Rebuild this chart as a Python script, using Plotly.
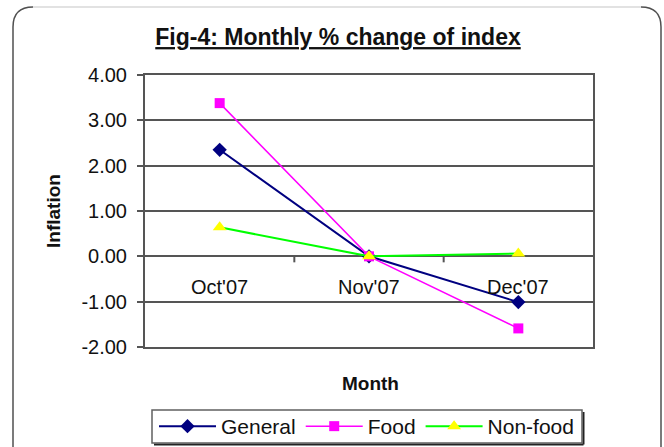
import plotly.graph_objects as go

# ---- data ----
categories = ["Oct'07", "Nov'07", "Dec'07"]
general = [2.35, 0.00, -1.01]
food = [3.38, 0.00, -1.59]
nonfood = [0.64, 0.00, 0.06]
y_ticks = [4, 3, 2, 1, 0, -1, -2]
y_tick_labels = ["4.00", "3.00", "2.00", "1.00", "0.00", "-1.00", "-2.00"]

W, H = 664, 447
L, R, T, B = 145, 593, 75, 347  # plot-area box in pixels
PW, PH = R - L, B - T

def px(x):
    return (x - L) / PW

def py(y):
    return (B - y) / PH

def cx(x):
    return x / W

def cy(y):
    return 1 - y / H

FONT = "Liberation Sans, Arial, sans-serif"
GRID = "#555555"

fig = go.Figure()
xs = list(range(len(categories)))
fig.add_trace(go.Scatter(x=xs, y=general, name="General", mode="lines+markers",
                         line=dict(color="#000080", width=2),
                         marker=dict(symbol="diamond", size=11, color="#000080")))
fig.add_trace(go.Scatter(x=xs, y=food, name="Food", mode="lines+markers",
                         line=dict(color="#FF00FF", width=1.5),
                         marker=dict(symbol="square", size=10, color="#FF00FF")))
fig.add_trace(go.Scatter(x=xs, y=nonfood, name="Non-food", mode="lines+markers",
                         line=dict(color="#00FF00", width=2),
                         marker=dict(symbol="triangle-up", size=12, color="#FFFF00")))

shapes = []
# category boundary ticks on the zero line
for i in range(len(categories) - 1):
    shapes.append(dict(type="line", xref="x", yref="y", ysizemode="pixel", yanchor=0,
                       x0=i + 0.5, x1=i + 0.5, y0=0, y1=-6,
                       line=dict(color=GRID, width=2)))

# outer rounded chart border
x0, x1, y0, y1, r = 13, 661, 7, 470, 20
sides = (f"M {px(x0)},{py(y1)} L {px(x0)},{py(y0 + r)} Q {px(x0)},{py(y0)} {px(x0 + r)},{py(y0)} "
         f"M {px(x1 - r)},{py(y0)} Q {px(x1)},{py(y0)} {px(x1)},{py(y0 + r)} L {px(x1)},{py(y1)}")
shapes.append(dict(type="path", xref="paper", yref="paper", path=sides,
                   line=dict(color="#505050", width=1.5)))
shapes.append(dict(type="line", xref="paper", yref="paper",
                   x0=px(x0 + r), x1=px(x1 - r), y0=py(y0), y1=py(y0),
                   line=dict(color="#d8d8d8", width=1.5)))

# legend frame with shadow
lx0, lx1, ly0, ly1 = 152, 582, 410, 443
shapes.append(dict(type="line", xref="paper", yref="paper",
                   x0=px(lx0 + 2), x1=px(lx1 + 1.5), y0=py(ly1 + 1.5), y1=py(ly1 + 1.5),
                   line=dict(color="#222222", width=2)))
shapes.append(dict(type="line", xref="paper", yref="paper",
                   x0=px(lx1 + 1.5), x1=px(lx1 + 1.5), y0=py(ly0 + 2), y1=py(ly1 + 1.5),
                   line=dict(color="#222222", width=2)))
shapes.append(dict(type="rect", xref="paper", yref="paper",
                   x0=px(lx0), x1=px(lx1), y0=py(ly1), y1=py(ly0),
                   line=dict(color="#606060", width=1.5)))

annotations = []
for i, c in enumerate(categories):
    annotations.append(dict(x=i, y=0, xref="x", yref="y", text=c, showarrow=False,
                            yshift=-31, font=dict(family=FONT, size=20, color="#111")))
annotations.append(dict(x=px(53), y=0.5, xref="paper", yref="paper", text="<b>Inflation</b>",
                        textangle=-90, showarrow=False, xanchor="center", yanchor="middle",
                        font=dict(family=FONT, size=19, color="#111")))
annotations.append(dict(x=px(370), y=py(383), xref="paper", yref="paper", text="<b>Month</b>",
                        showarrow=False, xanchor="center", yanchor="middle",
                        font=dict(family=FONT, size=19, color="#111")))

fig.update_layout(
    width=W, height=H,
    margin=dict(l=L, r=W - R, t=T, b=H - B, autoexpand=False),
    paper_bgcolor="white", plot_bgcolor="white",
    title=dict(text="<b>Fig-4: Monthly % change of index</b>",
               x=cx(338), xref="container",
               y=cy(37), yref="container", xanchor="center", yanchor="middle",
               font=dict(family=FONT, size=23, color="#111", lineposition="under")),
    xaxis=dict(range=[-0.5, len(categories) - 0.5], showticklabels=False, ticks="",
               showgrid=False, zeroline=False, showline=True, linecolor=GRID, linewidth=2,
               mirror=True, fixedrange=True),
    yaxis=dict(range=[-2, 4], tickvals=y_ticks, ticktext=y_tick_labels, ticks="outside",
               ticklen=6, tickwidth=2, tickcolor=GRID, ticklabelstandoff=6,
               tickfont=dict(family=FONT, size=20, color="#111"),
               showgrid=True, gridcolor=GRID, gridwidth=2,
               zeroline=True, zerolinecolor=GRID, zerolinewidth=2,
               showline=True, linecolor=GRID, linewidth=2, mirror=True),
    showlegend=True,
    legend=dict(orientation="h", xref="container", yref="container",
                x=cx(154), xanchor="left", y=cy(426.5), yanchor="middle",
                borderwidth=0, bgcolor="rgba(0,0,0,0)",
                font=dict(family=FONT, size=21, color="#111"), itemwidth=57,
                tracegroupgap=0),
    shapes=shapes,
    annotations=annotations,
)

fig.write_html(
    "out.html",
    config={"displayModeBar": False},
    post_script="document.body.style.margin='0';document.body.style.overflow='hidden';",
)
